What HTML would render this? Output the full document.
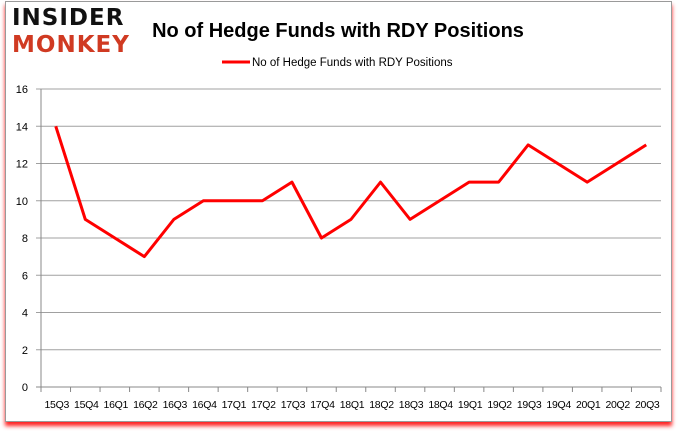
<!DOCTYPE html>
<html><head><style>
body{margin:0;background:#fff;width:678px;height:431px;overflow:hidden;font-family:"Liberation Sans",sans-serif}
#frame{position:absolute;left:5px;top:1px;width:665px;height:419px;border:1px solid #9a9a9a;background:#fff;box-shadow:0 4px 4px #f22}
</style></head><body>
<div id="frame"></div>
<svg id="c" width="678" height="431" style="position:absolute;left:0;top:0">
<text x="12" y="25" font-size="23" font-weight="bold" fill="#111" font-family="DejaVu Sans,sans-serif" letter-spacing="1">INSIDER</text>
<text x="12" y="52" font-size="23" font-weight="bold" fill="#d03a22" font-family="DejaVu Sans,sans-serif" letter-spacing="1">MONKEY</text>
<text x="338" y="37" font-size="20" font-weight="bold" text-anchor="middle" fill="#000">No of Hedge Funds with RDY Positions</text>
<line x1="222" y1="62" x2="250" y2="62" stroke="#f00" stroke-width="3"/>
<text x="252" y="66" font-size="11.5" fill="#000">No of Hedge Funds with RDY Positions</text>
<g id="g"></g>
</svg>
<script>
const categories=["15Q3","15Q4","16Q1","16Q2","16Q3","16Q4","17Q1","17Q2","17Q3","17Q4","18Q1","18Q2","18Q3","18Q4","19Q1","19Q2","19Q3","19Q4","20Q1","20Q2","20Q3"];
const values=[14,9,8,7,9,10,10,10,11,8,9,11,9,10,11,11,13,12,11,12,13];
const yTicks=[0,2,4,6,8,10,12,14,16];
const L=41,R=661,T=89,B=387,NS="http://www.w3.org/2000/svg";
const bw=(R-L)/categories.length;
const x=i=>L+bw*(i+0.5);
const y=v=>B-(v/16)*(B-T);
const g=document.getElementById('g');
function mk(t,a){const e=document.createElementNS(NS,t);for(const k in a)e.setAttribute(k,a[k]);g.appendChild(e);return e;}
yTicks.forEach(v=>{
 const l=mk('line',{x1:L-5,x2:R,y1:y(v),y2:y(v),stroke:v===0?'#888':'#a0a0a0','stroke-width':1});
 
 
 const t=mk('text',{x:L-13,y:y(v)+4,'font-size':11,'text-anchor':'end'});t.textContent=v;
 
 
});
const ax=mk('line',{x1:L,x2:L,y1:T,y2:B,stroke:'#888'});


categories.forEach((c,i)=>{
 const tk=mk('line',{x1:L+bw*i,x2:L+bw*i,y1:B,y2:B+5,stroke:'#888'});
 
 
 const t=mk('text',{x:x(i)+1,y:B+21,'font-size':10.5,'text-anchor':'middle','letter-spacing':'-0.3'});t.textContent=c;
 
 
});
const tk=mk('line',{x1:R,x2:R,y1:B,y2:B+5,stroke:'#888'});


const p=mk('polyline',{points:values.map((v,i)=>x(i)+','+y(v)).join(' '),fill:'none',stroke:'#f00','stroke-width':3,'stroke-linejoin':'round'});


</script>
</body></html>
